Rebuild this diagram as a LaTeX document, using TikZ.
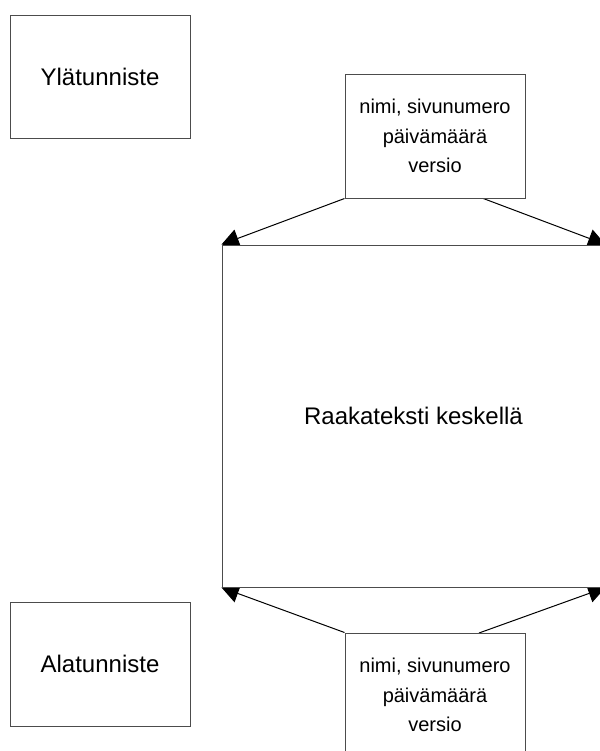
\documentclass[tikz,border=0pt]{standalone}
\usepackage{fontspec}
\setmainfont{Liberation Sans}
\usetikzlibrary{arrows.meta,backgrounds}

\begin{document}
\begin{tikzpicture}[x=0.75pt, y=-0.75pt, >={Triangle[length=13pt,width=14pt]},
  part/.style={draw=black!70, line width=0.75pt, fill=white, inner sep=0pt,
    font=\fontsize{18}{22}\selectfont},
  info/.style={part, minimum width=135pt, minimum height=93pt, align=center,
    font=\fontsize{15}{22}\selectfont},
  link/.style={->, line width=0.75pt, black}]
\clip (0,0) rectangle (600,751);
% ===== left labels =====
\node[part, minimum width=135pt, minimum height=92.25pt] (yla) at (100,76.5) {Ylätunniste};
\node[part, minimum width=135pt, minimum height=93pt] (ala) at (100,664) {Alatunniste};
% ===== page body and info boxes =====
\node[part, minimum width=287.25pt, minimum height=256.5pt] (body) at (413.5,416) {Raakateksti keskellä};
\node[info] (ylainfo) at (435,136) {nimi, sivunumero\\päivämäärä\\versio};
\node[info] (alainfo) at (435,695) {nimi, sivunumero\\päivämäärä\\versio};
\coordinate (ylaoik) at (482,198);
\coordinate (alaoik) at (479,633);
% arrows go under the body box
\begin{scope}[on background layer]
\draw[link] (ylainfo.south west) -- (body.north west);
\draw[link] (ylaoik) -- (body.north east);
\draw[link] (alainfo.north west) -- (body.south west);
\draw[link] (alaoik) -- (body.south east);
\end{scope}
\end{tikzpicture}
\end{document}
